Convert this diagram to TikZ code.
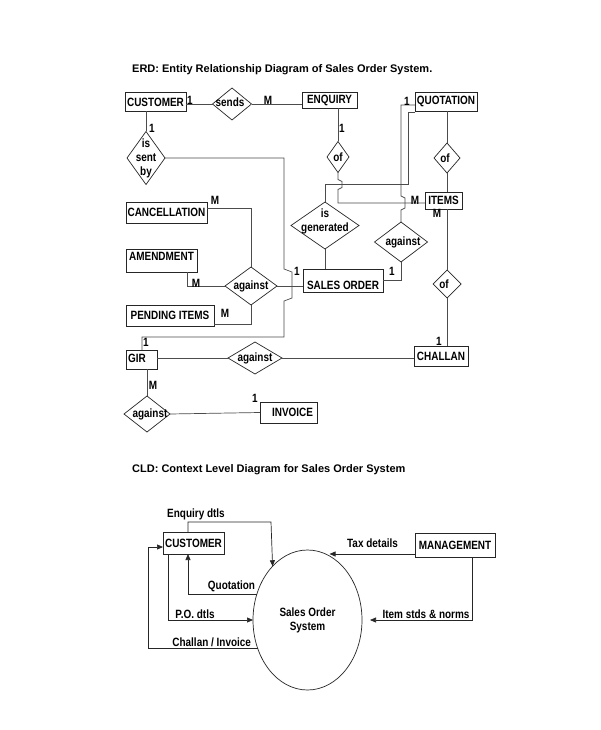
\documentclass[tikz,border=0pt]{standalone}
\usepackage{fontspec}
\setmainfont{Liberation Sans}
\newfontfamily\condfont{Liberation Sans}[FakeStretch=0.83]
\usetikzlibrary{shapes.geometric,arrows.meta}
\begin{document}
\begin{tikzpicture}[x=1pt,y=-1pt, font=\condfont\fontsize{12}{14}\selectfont\bfseries,
 box/.style={draw=black!85, line width=0.7pt, inner sep=0pt, outer sep=0pt},
 dia/.style={diamond, draw=black!85, line width=0.7pt, inner sep=0pt, outer sep=0pt},
 dlab/.style={align=center, inner sep=0pt},
 conn/.style={draw=black!70, line width=0.7pt},
 num/.style={inner sep=0pt},
 arr/.style={draw=black!85, line width=0.7pt, -{Triangle[length=6pt,width=5pt]}},
 ttl/.style={font=\fontsize{11}{13}\selectfont\bfseries, anchor=west, inner sep=0pt}]
\fill[white] (0,0) rectangle (600,730);
\useasboundingbox (0,0) rectangle (600,730);

% titles
\node[ttl] (erdt) at (132,70) {ERD: Entity Relationship Diagram of Sales Order System.};
\node[ttl] (cldt) at (132,470) {CLD: Context Level Diagram for Sales Order System};

% ERD entities
\node[box, minimum width=61, minimum height=19] (cust) at (155.5,102) {CUSTOMER};
\node[box, minimum width=55, minimum height=16] (enq) at (329.5,100.3) {ENQUIRY};
\node[box, minimum width=62, minimum height=19] (quot) at (446,101.5) {QUOTATION};
\node[box, minimum width=37, minimum height=17] (items) at (443.5,200.5) {ITEMS};
\node[box, minimum width=81, minimum height=21] (canc) at (166.5,212.5) {CANCELLATION};
\node[box, minimum width=71, minimum height=23, text depth=8pt] (amend) at (161.5,260.5) {AMENDMENT};
\node[box, minimum width=88, minimum height=21] (pend) at (170,315.5) {PENDING ITEMS};
\node[box, minimum width=80, minimum height=23, text height=18.6pt, text depth=0pt] (so) at (343,280.5) {SALES ORDER};
\node[box, minimum width=31, minimum height=19, text width=27pt, align=left, text depth=3pt] (gir) at (141.5,359.5) {GIR};
\node[box, minimum width=54, minimum height=20] (chal) at (441,356) {CHALLAN};
\node[box, minimum width=57, minimum height=21, text width=49pt, align=right] (inv) at (288.5,412.5) {INVOICE};

% ERD relationships
\node[dia, minimum width=39, minimum height=32, label={[dlab, xshift=-2pt, yshift=2pt]center:sends}] (sends) at (232,104) {};
\node[dia, minimum width=38, minimum height=53, label={[dlab]center:{is\\sent\\by}}] (issent) at (146,158) {};
\node[dia, minimum width=22, minimum height=31, label={[dlab]center:of}] (ofE) at (338,157) {};
\node[dia, minimum width=26, minimum height=30, label={[dlab, xshift=-2pt]center:of}] (ofQ) at (447,158) {};
\node[dia, minimum width=68, minimum height=47, label={[dlab, yshift=4pt]center:{is\\generated}}] (isgen) at (325,225.5) {};
\node[dia, minimum width=53, minimum height=40, label={[dlab, xshift=2pt]center:against}] (ag2) at (401,242) {};
\node[dia, minimum width=52, minimum height=38, label={[dlab]center:against}] (ag1) at (251,286) {};
\node[dia, minimum width=28, minimum height=28, label={[dlab, xshift=-3pt]center:of}] (ofI) at (447,284) {};
\node[dia, minimum width=54, minimum height=32, label={[dlab]center:against}] (agG) at (255,358) {};
\node[dia, minimum width=46, minimum height=36, label={[dlab, xshift=3pt]center:against}] (agI) at (147,414) {};

% ERD connectors
\draw[conn] (sends.west) -- (sends.west -| cust.east);
\draw[conn] (sends.east) -- (sends.east -| enq.west);
\draw[conn] (issent.north) -- (issent.north |- cust.south);
\draw[conn] (ofE.north) -- (ofE.north |- enq.south);
\draw[conn] (ofQ.north) -- (ofQ.north |- quot.south);
\draw[conn] (ofQ.south) -- (ofQ.south |- items.north);
\draw[conn] (ofI.north) -- (ofI.north |- items.south);
\draw[conn] (ofI.south) -- (ofI.south |- chal.north);
\draw[conn] (isgen.south) -- (isgen.south |- so.north);
\draw[conn] (ag2.south) |- (so.east);
\draw[conn] ([yshift=4.5pt]canc.east) -| (ag1.north);
\draw[conn] (amend.south -| 187,0) |- (ag1.west);
\draw[conn] ([yshift=-9pt]pend.east) -| (ag1.south);
\draw[conn] (ag1.east) -- (ag1.east -| so.west);
\draw[conn] (agG.west) -- (agG.west -| gir.east);
\draw[conn] (agG.east) -- (agG.east -| chal.west);
\draw[conn] (agI.north) -- (agI.north |- gir.south);
\draw[conn] (agI.east) -- (inv.west);
% quotation -> is generated
\draw[conn] ([yshift=-10.5pt]quot.west) -| (408,184) -| (isgen.north);
% quotation -> against -> sales order
\draw[conn] ([yshift=-3.5pt]quot.west) -| (401,196) -- ++(4,2) -- ++(0,10) -- ++(-4,2) -- (ag2.north);
% enquiry of -> items
\draw[conn] (ofE.south) -- ++(0,7) -- ++(4,2) -- ++(0,6) -- ++(-4,2) |- ([yshift=-2.5pt]items.west);
% is sent by -> GIR
\draw[conn] (issent.east) -| (284,269) -- ++(8,3) -- ++(0,26) -- ++(-8,3) -- (284,337) -| (gir.north -| 142,0);

% cardinalities
\node[num] (c1) at (190,100) {1};
\node[num] (c2) at (268,100) {M};
\node[num] (c3) at (407,101) {1};
\node[num] (c4) at (152,128) {1};
\node[num] (c5) at (342,128) {1};
\node[num] (c6) at (215,200) {M};
\node[num] (c7) at (415,200) {M};
\node[num] (c8) at (437,213) {M};
\node[num] (c9) at (297,271) {1};
\node[num] (c10) at (392,271) {1};
\node[num] (c11) at (196,283) {M};
\node[num] (c12) at (225,313) {M};
\node[num] (c13) at (146,342) {1};
\node[num] (c14) at (439,341) {1};
\node[num] (c15) at (153,385) {M};
\node[num] (c16) at (255,398) {1};

% CLD
\node[box, minimum width=61, minimum height=22] (cust2) at (193.5,543) {CUSTOMER};
\node[box, minimum width=80, minimum height=24] (mgmt) at (455,545) {MANAGEMENT};
\node[ellipse, draw=black!85, line width=0.7pt, inner sep=0pt, outer sep=0pt, minimum width=109, minimum height=140, align=center] (sos) at (307.5,620) {Sales Order\\System};

\draw[arr] (cust2.north -| 188,0) -- (188,522) -- (271,522) -- (sos.123.8);
\draw[arr] (sos.153.8) -- (sos.153.8 -| 188,0) -- (cust2.south -| 188,0);
\draw[arr] (cust2.south -| 168,0) |- (sos.west);
\draw[arr] (sos.210.4) -| (148,547) -- ([yshift=-4pt]cust2.west);
\draw[arr] ([yshift=-9pt]mgmt.west) -- ([yshift=-9pt]mgmt.west -| sos.71);
\draw[arr] (mgmt.south -| 472,0) |- ([xshift=8pt]sos.east);

\node[num] (l1) at (196,514) {Enquiry dtls};
\node[num] (l2) at (231.5,586) {Quotation};
\node[num] (l3) at (195,614) {P.O. dtls};
\node[num] (l4) at (211.7,642) {Challan / Invoice};
\node[num] (l5) at (372.5,543) {Tax details};
\node[num] (l6) at (426,614) {Item stds \& norms};
\end{tikzpicture}
\end{document}
